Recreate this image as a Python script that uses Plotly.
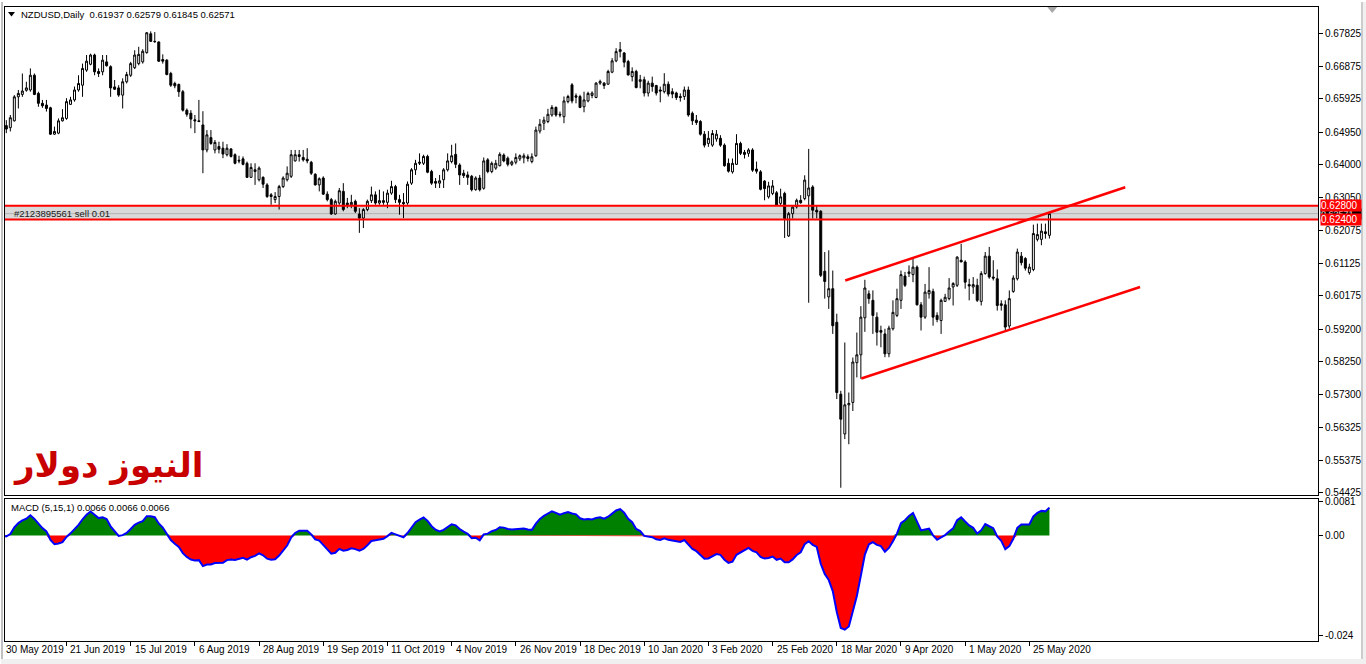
import numpy as np
import pandas as pd
import plotly.graph_objects as go

# ---------------- data ----------------
open_ = [
0.6520,0.6514,0.6508,0.6528,0.6598,0.6605,0.6617,0.6618,0.6661,0.6608,
0.6579,0.6574,0.6566,0.6489,0.6492,0.6528,0.6535,0.6576,0.6589,0.6618,
0.6632,0.6676,0.6693,0.6720,0.6672,0.6671,0.6700,0.6686,0.6627,0.6624,
0.6603,0.6642,0.6661,0.6683,0.6695,0.6700,0.6727,0.6782,0.6760,0.6758,
0.6707,0.6705,0.6666,0.6637,0.6634,0.6613,0.6559,0.6550,0.6531,0.6528,
0.6516,0.6443,0.6479,0.6443,0.6453,0.6448,0.6429,0.6446,0.6429,0.6413,
0.6417,0.6404,0.6363,0.6385,0.6356,0.6363,0.6341,0.6312,0.6298,0.6307,
0.6336,0.6356,0.6366,0.6411,0.6429,0.6421,0.6416,0.6407,0.6372,0.6341,
0.6361,0.6314,0.6298,0.6256,0.6288,0.6322,0.6288,0.6283,0.6293,0.6256,
0.6244,0.6269,0.6295,0.6312,0.6288,0.6295,0.6290,0.6317,0.6336,0.6298,
0.6290,0.6288,0.6346,0.6385,0.6404,0.6404,0.6424,0.6380,0.6351,0.6346,
0.6356,0.6385,0.6409,0.6430,0.6399,0.6375,0.6370,0.6366,0.6327,0.6361,
0.6331,0.6414,0.6380,0.6390,0.6397,0.6428,0.6419,0.6401,0.6407,0.6417,
0.6420,0.6423,0.6409,0.6426,0.6498,0.6521,0.6526,0.6545,0.6567,0.6547,
0.6540,0.6584,0.6633,0.6601,0.6599,0.6569,0.6586,0.6602,0.6596,0.6638,
0.6638,0.6635,0.6670,0.6703,0.6730,0.6726,0.6701,0.6657,0.6672,0.6643,
0.6648,0.6609,0.6638,0.6631,0.6618,0.6613,0.6635,0.6613,0.6609,0.6599,
0.6599,0.6618,0.6550,0.6530,0.6526,0.6489,0.6462,0.6457,0.6475,0.6477,
0.6457,0.6404,0.6379,0.6401,0.6462,0.6436,0.6433,0.6443,0.6387,0.6379,
0.6352,0.6306,0.6316,0.6318,0.6287,0.6316,0.6192,0.6257,0.6277,0.6296,
0.6301,0.6309,0.6335,0.6267,0.6264,0.6089,0.6014,0.6038,0.5940,0.5730,
0.5614,0.5699,0.5706,0.5822,0.5845,0.5953,0.6023,0.6004,0.5955,0.5916,
0.5906,0.5848,0.5921,0.5960,0.6004,0.6075,0.6082,0.6079,0.6101,0.5991,
0.5955,0.6023,0.6030,0.5960,0.5945,0.6001,0.6009,0.6043,0.6048,0.6121,
0.6116,0.6050,0.6043,0.6048,0.6001,0.6082,0.6133,0.6072,0.6067,0.5989,
0.5991,0.5929,0.6030,0.6067,0.6133,0.6126,0.6085,0.6094,0.6182,0.6182,
0.6204,0.61937]
high = [
0.6530,0.6530,0.6545,0.6603,0.6618,0.6666,0.6642,0.6681,0.6666,0.6613,
0.6589,0.6589,0.6569,0.6511,0.6535,0.6562,0.6594,0.6598,0.6628,0.6661,
0.6695,0.6720,0.6724,0.6724,0.6681,0.6720,0.6720,0.6690,0.6647,0.6632,
0.6652,0.6671,0.6700,0.6734,0.6744,0.6737,0.6787,0.6789,0.6787,0.6760,
0.6722,0.6708,0.6671,0.6642,0.6637,0.6618,0.6564,0.6559,0.6545,0.6589,
0.6556,0.6501,0.6501,0.6472,0.6467,0.6467,0.6460,0.6448,0.6433,0.6426,
0.6424,0.6409,0.6404,0.6404,0.6395,0.6366,0.6346,0.6317,0.6320,0.6341,
0.6366,0.6395,0.6443,0.6443,0.6443,0.6443,0.6448,0.6411,0.6375,0.6363,
0.6366,0.6322,0.6303,0.6298,0.6332,0.6346,0.6303,0.6312,0.6298,0.6273,
0.6273,0.6298,0.6336,0.6322,0.6327,0.6322,0.6327,0.6353,0.6341,0.6312,
0.6317,0.6351,0.6390,0.6414,0.6433,0.6429,0.6429,0.6385,0.6361,0.6370,
0.6390,0.6433,0.6458,0.6462,0.6404,0.6385,0.6380,0.6370,0.6366,0.6370,
0.6421,0.6419,0.6409,0.6414,0.6436,0.6433,0.6424,0.6412,0.6433,0.6430,
0.6433,0.6430,0.6433,0.6511,0.6533,0.6540,0.6563,0.6574,0.6570,0.6555,
0.6599,0.6604,0.6638,0.6608,0.6604,0.6613,0.6613,0.6614,0.6641,0.6648,
0.6641,0.6677,0.6711,0.6740,0.6758,0.6729,0.6706,0.6684,0.6677,0.6662,
0.6657,0.6645,0.6657,0.6633,0.6628,0.6667,0.6643,0.6623,0.6613,0.6608,
0.6628,0.6628,0.6555,0.6545,0.6530,0.6498,0.6498,0.6501,0.6501,0.6486,
0.6462,0.6418,0.6418,0.6489,0.6467,0.6443,0.6448,0.6448,0.6409,0.6384,
0.6355,0.6350,0.6355,0.6323,0.6330,0.6321,0.6262,0.6282,0.6301,0.6311,
0.6369,0.6446,0.6340,0.6282,0.6267,0.6145,0.6150,0.6091,0.5965,0.5740,
0.5881,0.5735,0.5837,0.5910,0.5987,0.6064,0.6033,0.6033,0.5969,0.5930,
0.5921,0.5930,0.6004,0.6038,0.6091,0.6087,0.6106,0.6126,0.6106,0.5999,
0.6052,0.6101,0.6038,0.5969,0.6009,0.6023,0.6069,0.6057,0.6133,0.6169,
0.6121,0.6067,0.6072,0.6067,0.6089,0.6145,0.6160,0.6121,0.6094,0.6004,
0.6004,0.6033,0.6077,0.6155,0.6145,0.6130,0.6111,0.6225,0.6228,0.6228,
0.6228,0.62579]
low = [
0.6502,0.6492,0.6497,0.6526,0.6564,0.6598,0.6613,0.6613,0.6603,0.6569,
0.6566,0.6555,0.6487,0.6487,0.6489,0.6526,0.6531,0.6574,0.6584,0.6613,
0.6598,0.6671,0.6690,0.6661,0.6656,0.6661,0.6686,0.6598,0.6618,0.6598,
0.6564,0.6637,0.6656,0.6679,0.6690,0.6695,0.6724,0.6758,0.6756,0.6700,
0.6695,0.6661,0.6627,0.6623,0.6598,0.6555,0.6540,0.6506,0.6492,0.6524,
0.6375,0.6436,0.6458,0.6433,0.6433,0.6419,0.6424,0.6421,0.6401,0.6404,
0.6398,0.6361,0.6361,0.6341,0.6351,0.6332,0.6303,0.6283,0.6288,0.6269,
0.6332,0.6351,0.6361,0.6409,0.6409,0.6409,0.6404,0.6370,0.6339,0.6322,
0.6312,0.6293,0.6254,0.6254,0.6283,0.6264,0.6273,0.6273,0.6259,0.6201,
0.6215,0.6264,0.6288,0.6283,0.6283,0.6283,0.6273,0.6312,0.6288,0.6254,
0.6244,0.6283,0.6341,0.6370,0.6399,0.6399,0.6375,0.6341,0.6332,0.6332,
0.6332,0.6380,0.6404,0.6390,0.6341,0.6361,0.6341,0.6322,0.6324,0.6322,
0.6327,0.6375,0.6375,0.6385,0.6395,0.6407,0.6395,0.6396,0.6401,0.6411,
0.6404,0.6409,0.6404,0.6423,0.6491,0.6501,0.6521,0.6540,0.6540,0.6538,
0.6521,0.6579,0.6579,0.6579,0.6565,0.6553,0.6582,0.6594,0.6594,0.6633,
0.6621,0.6633,0.6667,0.6699,0.6713,0.6684,0.6660,0.6643,0.6623,0.6623,
0.6599,0.6599,0.6613,0.6602,0.6582,0.6608,0.6599,0.6594,0.6589,0.6584,
0.6589,0.6540,0.6516,0.6516,0.6485,0.6450,0.6452,0.6452,0.6467,0.6452,
0.6394,0.6377,0.6374,0.6399,0.6428,0.6418,0.6423,0.6379,0.6374,0.6325,
0.6296,0.6301,0.6311,0.6280,0.6282,0.6186,0.6189,0.6243,0.6272,0.6286,
0.6296,0.5997,0.6243,0.6243,0.6072,0.6009,0.5979,0.5906,0.5716,0.5457,
0.5599,0.5584,0.5681,0.5779,0.5775,0.5912,0.5994,0.5906,0.5872,0.5867,
0.5838,0.5838,0.5916,0.5955,0.5979,0.6043,0.6072,0.6057,0.5989,0.5916,
0.5950,0.6009,0.5930,0.5940,0.5906,0.5999,0.6004,0.5989,0.6043,0.6116,
0.6038,0.6004,0.6023,0.5999,0.5989,0.6079,0.6067,0.6062,0.5974,0.5974,
0.5916,0.5921,0.6026,0.6062,0.6106,0.6091,0.6079,0.6089,0.6176,0.6165,
0.6184,0.61845]
close = [
0.6514,0.6504,0.6537,0.6598,0.6608,0.6615,0.6624,0.6661,0.6605,0.6579,
0.6572,0.6564,0.6489,0.6497,0.6528,0.6537,0.6584,0.6589,0.6618,0.6637,
0.6681,0.6702,0.6720,0.6671,0.6666,0.6705,0.6689,0.6624,0.6620,0.6603,
0.6642,0.6663,0.6695,0.6720,0.6722,0.6731,0.6785,0.6760,0.6759,0.6702,
0.6702,0.6663,0.6632,0.6630,0.6613,0.6559,0.6547,0.6533,0.6528,0.6526,
0.6443,0.6487,0.6462,0.6465,0.6445,0.6431,0.6448,0.6424,0.6404,0.6411,
0.6401,0.6363,0.6392,0.6380,0.6390,0.6343,0.6307,0.6307,0.6307,0.6336,
0.6361,0.6375,0.6429,0.6429,0.6424,0.6414,0.6411,0.6375,0.6341,0.6359,
0.6314,0.6298,0.6256,0.6293,0.6324,0.6269,0.6283,0.6290,0.6264,0.6244,
0.6269,0.6293,0.6312,0.6288,0.6295,0.6290,0.6317,0.6336,0.6298,0.6290,
0.6286,0.6343,0.6385,0.6404,0.6407,0.6424,0.6378,0.6346,0.6346,0.6353,
0.6385,0.6411,0.6426,0.6401,0.6370,0.6368,0.6363,0.6327,0.6361,0.6327,
0.6411,0.6380,0.6404,0.6404,0.6430,0.6411,0.6401,0.6408,0.6421,0.6426,
0.6426,0.6418,0.6423,0.6501,0.6518,0.6530,0.6547,0.6567,0.6545,0.6545,
0.6586,0.6599,0.6586,0.6597,0.6567,0.6589,0.6608,0.6609,0.6638,0.6643,
0.6631,0.6672,0.6703,0.6730,0.6736,0.6699,0.6662,0.6672,0.6625,0.6648,
0.6609,0.6638,0.6628,0.6609,0.6615,0.6635,0.6606,0.6606,0.6596,0.6596,
0.6618,0.6545,0.6528,0.6523,0.6489,0.6457,0.6477,0.6491,0.6489,0.6457,
0.6397,0.6381,0.6404,0.6462,0.6433,0.6430,0.6443,0.6384,0.6381,0.6328,
0.6330,0.6338,0.6338,0.6282,0.6306,0.6243,0.6257,0.6276,0.6296,0.6289,
0.6355,0.6332,0.6267,0.6262,0.6077,0.6059,0.6038,0.5930,0.5735,0.5657,
0.5699,0.5703,0.5824,0.5845,0.5955,0.6040,0.6009,0.5960,0.5911,0.5911,
0.5848,0.5923,0.5969,0.6009,0.6079,0.6048,0.6087,0.6101,0.5991,0.5955,
0.6028,0.6033,0.5955,0.5948,0.6004,0.6013,0.6040,0.6053,0.6130,0.6116,
0.6057,0.6046,0.6050,0.6004,0.6082,0.6133,0.6072,0.6069,0.5989,0.5994,
0.5926,0.6009,0.6069,0.6145,0.6114,0.6098,0.6101,0.6199,0.6196,0.6206,
0.6199,0.62571]

# date labels shown under the chart (every 16th bar)
label_bars = [0, 16, 32, 48, 64, 80, 96, 112, 128, 144, 160, 176, 192, 208, 224, 240, 256]
label_text = ["30 May 2019", "21 Jun 2019", "15 Jul 2019", "6 Aug 2019", "28 Aug 2019",
              "19 Sep 2019", "11 Oct 2019", "4 Nov 2019", "26 Nov 2019", "18 Dec 2019",
              "10 Jan 2020", "3 Feb 2020", "25 Feb 2020", "18 Mar 2020", "9 Apr 2020",
              "1 May 2020", "25 May 2020"]

price_ticks = [0.67825, 0.66875, 0.65925, 0.64950, 0.64000, 0.63050, 0.62075, 0.61125,
               0.60175, 0.59200, 0.58250, 0.57300, 0.56325, 0.55375, 0.54425]
macd_ticks = [0.0081, 0.0, -0.024]
macd_tick_text = ["0.0081", "0.00", "-0.024"]

order_levels = [0.62800, 0.62400]
bid_price = 0.62571

# channel trend lines (bar index, price)
chan_upper_x = [210.1, 279.9]
chan_upper_y = [0.6062, 0.6334]
chan_lower_x = [214.1, 283.6]
chan_lower_y = [0.5776, 0.6043]

bars = np.arange(len(close))

# MACD(5,15,1) from closes
cs = pd.Series(close)
macd = (cs.ewm(span=5, adjust=False).mean() - cs.ewm(span=15, adjust=False).mean()).values
macd_pos = np.maximum(macd, 0)
macd_neg = np.minimum(macd, 0)

# ---------------- figure ----------------
W, H = 1366, 664
ML, MR, MT, MB = 4, 48, 5, 23
PH = H - MT - MB
PW = W - ML - MR

def py(ypix):
    return (H - MB - ypix) / PH

def px(xpix):
    return (xpix - ML) / PW

main_dom = [py(495), 1]
macd_dom = [0, py(499)]
xr = [(ML - 1.3) / 4.015, (W - MR - 1.3) / 4.015]

def bar_to_paper(b):
    return (b - xr[0]) / (xr[1] - xr[0])

fig = go.Figure()

fig.add_trace(go.Candlestick(
    x=bars, open=open_, high=high, low=low, close=close,
    increasing=dict(line=dict(color="black", width=1), fillcolor="white"),
    decreasing=dict(line=dict(color="black", width=1), fillcolor="black"),
    whiskerwidth=0, xaxis="x", yaxis="y", showlegend=False, hoverinfo="skip"))

fig.add_trace(go.Scatter(x=chan_upper_x, y=chan_upper_y, mode="lines",
                         line=dict(color="#FF0000", width=2.5), xaxis="x", yaxis="y",
                         showlegend=False, hoverinfo="skip"))
fig.add_trace(go.Scatter(x=chan_lower_x, y=chan_lower_y, mode="lines",
                         line=dict(color="#FF0000", width=2.5), xaxis="x", yaxis="y",
                         showlegend=False, hoverinfo="skip"))

fig.add_trace(go.Scatter(x=bars, y=macd_pos, mode="lines", fill="tozeroy",
                         fillcolor="#008000", line=dict(width=0, color="#008000"),
                         xaxis="x2", yaxis="y2", showlegend=False, hoverinfo="skip"))
fig.add_trace(go.Scatter(x=bars, y=macd_neg, mode="lines", fill="tozeroy",
                         fillcolor="#FF0000", line=dict(width=0, color="#FF0000"),
                         xaxis="x2", yaxis="y2", showlegend=False, hoverinfo="skip"))
fig.add_trace(go.Scatter(x=bars, y=macd, mode="lines",
                         line=dict(width=2, color="#0000FF"),
                         xaxis="x2", yaxis="y2", showlegend=False, hoverinfo="skip"))

font = "Liberation Sans, Arial, sans-serif"

axis_common = dict(showgrid=False, zeroline=False, showline=True, mirror=True,
                   linecolor="black", linewidth=1)

fig.update_layout(
    width=W, height=H,
    margin=dict(l=ML, r=MR, t=MT, b=MB, pad=0),
    paper_bgcolor="white", plot_bgcolor="white",
    font=dict(family=font, size=10, color="black"),
    showlegend=False,
    xaxis=dict(domain=[0, 1], range=xr, anchor="y", showticklabels=False, ticks="",
               rangeslider=dict(visible=False), **axis_common),
    xaxis2=dict(domain=[0, 1], range=xr, anchor="y2", matches="x", showticklabels=False,
                ticks="outside", ticklen=4, tickcolor="black", tickvals=label_bars,
                **axis_common),
    yaxis=dict(domain=main_dom, range=[0.54345, 0.68602], side="right", anchor="x",
               tickvals=price_ticks, ticktext=[f"{v:.5f}" for v in price_ticks],
               ticks="outside", ticklen=4, tickcolor="black",
               tickfont=dict(family=font, size=10, color="black"), **axis_common),
    yaxis2=dict(domain=macd_dom, range=[-0.0254, 0.0087], side="right", anchor="x2",
                tickvals=macd_ticks, ticktext=macd_tick_text,
                ticks="outside", ticklen=4, tickcolor="black",
                tickfont=dict(family=font, size=10, color="black"), **axis_common),
)

shapes = []
# order zone
shapes.append(dict(type="rect", xref="x domain", yref="y", x0=0, x1=1,
                   y0=order_levels[1], y1=order_levels[0], fillcolor="#D9D9D9",
                   line=dict(width=0), layer="below"))
shapes.append(dict(type="line", xref="x domain", yref="y", x0=0, x1=1,
                   y0=bid_price, y1=bid_price, line=dict(color="#B4B4B4", width=1),
                   layer="below"))
for lv in order_levels:
    shapes.append(dict(type="line", xref="x domain", yref="y", x0=0, x1=1,
                       y0=lv, y1=lv, line=dict(color="#FF0000", width=2), layer="above"))
# chart-shift marker
shapes.append(dict(type="path", xref="x", yref="paper", xsizemode="pixel",
                   ysizemode="pixel", xanchor=261.7, yanchor=1,
                   path="M -5,0 L 5,0 L 0,-6 Z", fillcolor="#A8A8A8", line=dict(width=0)))
# header triangle
shapes.append(dict(type="path", xref="paper", yref="paper", xsizemode="pixel",
                   ysizemode="pixel", xanchor=px(10.5), yanchor=py(12),
                   path="M -3.5,2 L 3.5,2 L 0,-2.5 Z", fillcolor="black", line=dict(width=0)))
# window borders
shapes.append(dict(type="line", xref="paper", yref="paper", x0=px(1), x1=px(1),
                   y0=py(H), y1=py(0), line=dict(color="#808080", width=1)))
shapes.append(dict(type="rect", xref="paper", yref="paper", x0=px(0), x1=px(W),
                   y0=py(H), y1=py(659), fillcolor="#F0F0F0", line=dict(width=0)))
shapes.append(dict(type="rect", xref="paper", yref="paper", x0=px(1362), x1=px(W),
                   y0=py(H), y1=py(0), fillcolor="#F0F0F0", line=dict(width=0)))
shapes.append(dict(type="line", xref="paper", yref="paper", x0=px(1362), x1=px(1362),
                   y0=py(659), y1=py(0), line=dict(color="#A0A0A0", width=1)))
fig.update_layout(shapes=shapes)

ann = []
ann.append(dict(text="NZDUSD,Daily  0.61937 0.62579 0.61845 0.62571", xref="paper",
                yref="paper", x=px(18), y=py(13), xanchor="left", yanchor="middle",
                showarrow=False, font=dict(family=font, size=9.5, color="black")))
ann.append(dict(text="MACD (5,15,1) 0.0066 0.0066 0.0066", xref="paper", yref="paper",
                x=px(8), y=py(507), xanchor="left", yanchor="middle", showarrow=False,
                font=dict(family=font, size=9.5, color="black")))
ann.append(dict(text="#2123895561 sell 0.01", xref="paper", yref="y", x=px(11),
                y=bid_price, xanchor="left", yanchor="middle", showarrow=False,
                font=dict(family=font, size=9.5, color="#202020")))
ann.append(dict(text="النيوز دولار", xref="paper", yref="paper", x=px(10), y=py(465),
                xanchor="left", yanchor="middle", showarrow=False,
                font=dict(family="DejaVu Sans, sans-serif", size=34, color="#C80000",
                          weight="bold")))
# price tags on the right axis (bid tag mostly hidden behind the order tags)
ann.append(dict(text=f"{bid_price:.5f}", xref="paper", yref="y", x=1, y=bid_price,
                xanchor="left", yanchor="middle", xshift=2, showarrow=False,
                bgcolor="black", font=dict(family=font, size=9, color="white"),
                borderpad=0, width=40, height=10, align="left"))
for lv in order_levels:
    ann.append(dict(text=f"{lv:.5f}", xref="paper", yref="y", x=1, y=lv,
                    xanchor="left", yanchor="middle", xshift=2, showarrow=False,
                    bgcolor="#FF0000", font=dict(family=font, size=10, color="white"),
                    borderpad=0, width=40, height=11, align="left", valign="middle"))
for b, t in zip(label_bars, label_text):
    ann.append(dict(text=t, xref="paper", yref="paper", x=bar_to_paper(b), y=py(650),
                    xanchor="left", yanchor="middle", xshift=2, showarrow=False,
                    font=dict(family=font, size=10, color="black")))
fig.update_layout(annotations=ann)

fig.write_html("out.html", config={"displayModeBar": False},
               post_script="document.body.style.margin='0px';document.body.style.overflow='hidden';")
